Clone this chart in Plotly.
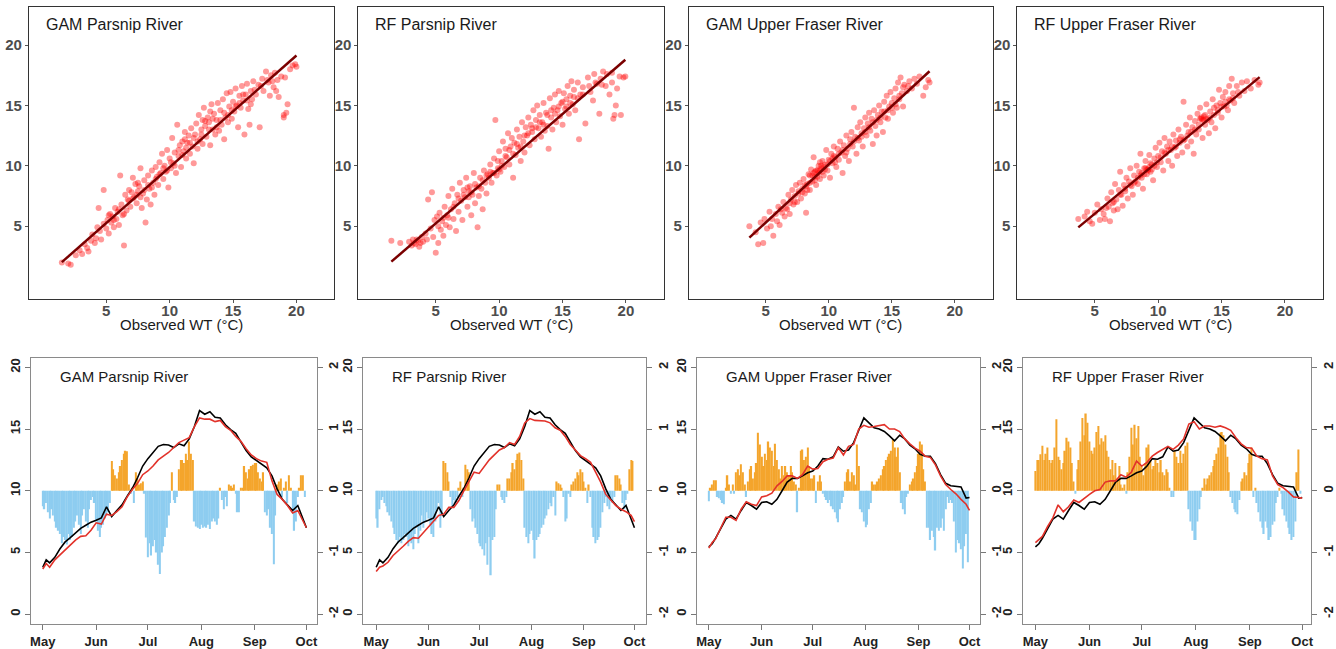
import numpy as np
import plotly.graph_objects as go

# ---------------- data ----------------
panel_titles = ["GAM Parsnip River", "RF Parsnip River", "GAM Upper Fraser River", "RF Upper Fraser River"]
axis_ticks = [5, 10, 15, 20]
x_title = "Observed WT (°C)"

# regression line (predicted ~ observed): slope, intercept
fit_slope = [0.925, 0.906, 0.963, 0.870]
fit_intercept = [0.63, 0.70, 0.49, 1.68]

gam_parsnip_pts = [
(1.5,2.0),(2.0,1.9),(2.2,1.8),(2.6,2.6),(2.9,3.0),(3.1,2.7),(3.3,3.5),(3.5,3.2),(3.6,2.9),(3.8,3.8),(3.9,4.3),(4.1,3.6),(4.2,4.0),(4.4,6.5),(4.5,4.6),(4.3,4.9),
(4.6,3.9),(4.8,8.0),(4.8,5.2),(5.0,4.8),(5.1,5.5),(5.2,4.4),(5.3,6.0),(5.4,5.3),(5.5,5.8),(5.6,4.9),(5.7,6.5),(5.8,5.6),(5.9,6.2),(6.0,5.1),(6.1,9.2),(6.2,6.8),(6.3,5.9),(6.4,3.4),(6.5,7.6),(6.6,6.3),
(6.7,7.2),(6.8,8.0),(6.9,6.6),(7.0,7.8),(7.1,9.0),(7.2,7.4),(7.3,8.5),(7.4,6.9),(7.5,7.9),(7.6,8.3),(7.7,9.8),(7.8,6.5),(7.9,7.7),(8.0,8.8),(8.1,5.3),(8.2,7.2),(8.3,9.2),(8.4,8.1),(8.5,6.8),(8.6,9.6),
(8.7,8.6),(8.8,7.6),(8.9,9.9),(9.0,9.1),(9.1,8.4),(9.2,10.3),(9.3,9.4),(9.4,11.0),(9.5,8.9),(9.6,10.0),(9.7,9.5),(9.8,11.3),(9.9,8.2),(10.0,10.6),(10.1,9.8),(10.2,12.3),(10.3,10.2),(10.4,11.1),(10.5,9.4),(10.6,13.4),
(10.7,10.8),(10.8,11.7),(10.9,9.9),(11.0,12.0),(11.1,11.2),(11.2,12.8),(11.3,10.6),(11.4,11.9),(11.5,12.5),(11.6,11.0),(11.7,13.1),(11.8,11.6),(11.9,10.2),(12.0,12.6),(12.1,13.5),(12.2,11.4),(12.3,14.2),(12.4,12.2),(12.5,13.0),(12.6,11.8),
(12.7,14.8),(12.8,13.3),(12.9,12.4),(13.0,14.0),(13.1,13.6),(13.2,11.7),(13.3,15.1),(13.4,13.0),(13.5,14.3),(13.6,12.6),(13.7,13.8),(13.8,15.2),(13.9,12.9),(14.0,14.6),(14.1,13.4),(14.2,15.5),(14.3,12.2),(14.4,14.0),(14.5,16.0),(14.6,13.6),
(14.7,14.9),(14.8,16.1),(14.9,13.9),(15.0,15.3),(15.1,14.5),(15.2,16.4),(15.3,15.0),(15.4,13.2),(15.5,15.8),(15.6,14.8),(15.7,16.6),(15.8,15.4),(15.9,12.6),(16.0,15.9),(16.1,16.8),(16.2,14.7),(16.3,13.4),(16.4,16.2),(16.5,15.5),(16.6,17.0),
(16.8,15.9),(17.0,16.7),(17.1,13.2),(17.3,17.2),(17.4,16.2),(17.6,17.8),(17.8,16.9),(17.9,15.8),(18.0,17.5),(18.2,16.5),(18.3,17.7),(18.5,17.1),(18.6,15.7),(18.8,17.4),(19.0,14.0),(19.1,17.3),(19.2,14.4),(19.3,15.1),(19.5,18.0),(19.7,18.3),(19.9,18.4),(19.0,14.2),(18.4,16.2),(20.0,18.2),
(5.2,5.9),(5.6,5.5),(6.0,6.4),(6.4,6.0),(6.8,7.1),(7.1,7.3),(7.4,7.6),(7.7,7.4),(8.0,8.0),(8.3,8.4),(8.6,8.2),(8.9,8.9),(9.2,9.3),(9.5,9.8),(9.8,9.6),(10.1,10.3),(10.4,10.0),(10.7,11.3),(11.0,10.9),(11.3,11.5),
(11.6,11.9),(11.9,12.3),(12.2,12.0),(12.5,12.6),(12.8,13.7),(13.1,13.0),(13.4,13.9),(13.7,13.2),(14.0,13.8),(14.3,14.4),(14.6,14.2),(14.9,14.6),(15.2,14.9),(15.5,15.2),(15.8,15.9),(16.1,15.4),(16.4,15.1),(16.7,16.3),(17.2,16.6),(17.7,17.1),
(18.1,17.0),(7.5,8.6),(12.6,13.8),(13.2,14.5),(11.2,12.2)]

rf_parsnip_pts = [
(1.5,3.8),(2.2,3.6),(2.9,3.7),(3.1,3.4),(3.2,3.9),(3.4,3.5),(3.6,3.8),(3.7,3.3),(3.9,4.1),(4.0,3.7),(4.2,4.4),(4.3,3.9),(4.4,7.2),(4.6,4.8),(4.7,7.8),(4.8,4.1),(4.9,5.5),(5.0,2.8),(5.1,5.8),(5.2,3.6),
(5.3,6.1),(5.4,4.7),(5.5,5.4),(5.6,4.2),(5.7,6.6),(5.8,5.1),(5.9,5.9),(6.0,7.5),(6.1,4.9),(6.2,6.4),(6.3,8.1),(6.4,5.6),(6.5,6.9),(6.6,4.6),(6.7,7.6),(6.8,6.2),(6.9,8.6),(7.0,7.1),(7.1,5.5),(7.2,8.0),
(7.3,7.4),(7.4,9.0),(7.5,6.6),(7.6,7.9),(7.7,8.3),(7.8,5.9),(7.9,7.6),(8.0,9.4),(8.1,6.9),(8.2,8.2),(8.3,4.9),(8.4,7.5),(8.5,9.0),(8.6,8.1),(8.7,6.4),(8.8,9.6),(8.9,8.6),(9.0,7.7),(9.1,9.3),(9.2,9.0),
(9.3,10.1),(9.4,8.6),(9.5,9.4),(9.6,10.6),(9.7,13.8),(9.8,9.2),(9.9,9.8),(10.0,11.2),(10.1,9.5),(10.2,10.4),(10.3,12.0),(10.4,9.9),(10.5,11.4),(10.6,10.7),(10.7,12.7),(10.8,10.1),(10.9,11.6),(11.0,12.3),(11.1,9.0),(11.2,11.9),
(11.3,10.9),(11.4,13.0),(11.5,11.5),(11.6,12.4),(11.7,10.4),(11.8,13.6),(11.9,12.0),(12.0,11.1),(12.1,13.2),(12.2,12.5),(12.3,14.0),(12.4,11.7),(12.5,13.4),(12.6,12.8),(12.7,14.6),(12.8,12.2),(12.9,13.8),(13.0,15.0),(13.1,13.1),(13.2,14.2),
(13.3,12.4),(13.4,13.6),(13.5,15.2),(13.6,12.9),(13.7,14.4),(13.8,13.3),(13.9,11.4),(14.0,15.6),(14.1,14.0),(14.2,13.0),(14.3,14.8),(14.4,15.9),(14.5,13.6),(14.6,14.6),(14.7,16.2),(14.8,14.1),(14.9,15.2),(15.0,13.4),(15.1,16.0),(15.2,14.7),
(15.3,15.5),(15.4,16.6),(15.5,14.3),(15.6,15.8),(15.7,17.0),(15.8,15.1),(15.9,16.3),(16.0,14.6),(16.2,16.9),(16.3,12.2),(16.4,15.9),(16.6,16.5),(16.8,13.5),(17.0,17.3),(17.2,16.1),(17.4,15.4),(17.5,17.6),(17.7,16.8),(17.9,14.3),(18.0,17.2),
(18.2,17.8),(18.4,16.6),(18.5,17.6),(18.7,15.9),(18.9,16.9),(19.0,13.9),(19.1,14.2),(19.2,15.0),(19.3,16.4),(19.5,17.4),(19.6,14.2),(19.8,17.3),(18.9,17.7),(19.95,17.4),
(3.3,3.6),(3.5,3.9),(3.8,3.6),(5.2,5.0),(5.6,5.7),(6.0,5.7),(6.4,6.6),(6.8,7.3),(7.2,7.6),(7.5,8.2),(7.8,7.8),(8.1,8.5),(8.4,8.3),(8.7,8.8),(9.0,9.2),(9.3,9.5),(9.6,9.4),(9.9,10.4),(10.2,10.0),(10.5,10.8),
(10.8,11.3),(11.1,11.0),(11.4,11.8),(11.7,11.6),(12.0,12.5),(12.3,12.7),(12.6,13.1),(12.9,13.2),(13.2,13.6),(13.5,13.4),(13.8,14.2),(14.1,14.6),(14.4,14.3),(14.7,14.9),(15.0,15.3),(15.3,14.9),(15.6,15.2),(15.9,15.7),(16.2,15.6),(16.6,15.9),
(17.1,16.6),(17.6,16.9),(18.1,16.7),(10.0,9.7),(7.6,7.4)]

gam_fraser_pts = [
(3.7,5.0),(4.2,4.5),(4.4,3.5),(4.6,5.3),(4.8,3.6),(4.9,5.6),(5.1,4.8),(5.3,6.2),(5.4,5.0),(5.5,5.6),(5.6,4.2),(5.8,6.0),(5.9,5.4),(6.0,6.6),(6.1,5.1),(6.3,6.1),(6.4,7.0),(6.5,5.8),(6.6,6.5),(6.7,6.4),
(6.8,7.6),(6.9,6.0),(7.0,7.2),(7.1,8.0),(7.2,6.8),(7.3,7.5),(7.4,8.4),(7.5,7.0),(7.6,7.9),(7.7,8.6),(7.8,7.3),(7.9,8.1),(8.0,8.9),(8.1,7.7),(8.2,6.1),(8.3,8.5),(8.4,9.3),(8.5,8.0),(8.6,9.7),(8.7,8.7),
(8.8,10.7),(8.9,9.1),(9.0,8.4),(9.1,9.6),(9.2,10.0),(9.3,8.9),(9.4,9.8),(9.5,10.4),(9.6,9.2),(9.7,10.1),(9.8,11.3),(9.9,9.6),(10.0,10.5),(10.1,9.0),(10.2,11.0),(10.3,10.2),(10.4,11.6),(10.5,10.7),(10.6,9.9),(10.7,11.4),
(10.8,10.5),(10.9,12.0),(11.0,11.1),(11.1,9.4),(11.2,11.7),(11.3,10.8),(11.4,12.5),(11.5,11.4),(11.6,10.4),(11.7,12.2),(11.8,12.8),(11.9,11.6),(12.0,14.8),(12.1,12.4),(12.2,11.0),(12.3,13.2),(12.4,12.1),(12.5,13.6),(12.6,12.7),(12.7,11.6),
(12.8,13.1),(12.9,14.0),(13.0,12.5),(13.1,13.5),(13.2,14.4),(13.3,12.9),(13.4,13.9),(13.5,11.8),(13.6,14.6),(13.7,13.3),(13.8,12.5),(13.9,14.2),(14.0,15.0),(14.1,13.6),(14.2,14.5),(14.3,12.8),(14.4,15.3),(14.5,14.0),(14.6,15.8),(14.7,13.9),
(14.8,14.9),(14.9,16.1),(15.0,15.2),(15.1,14.4),(15.2,15.6),(15.3,16.4),(15.4,14.8),(15.5,16.9),(15.6,15.5),(15.7,17.3),(15.8,16.0),(15.9,14.9),(16.0,16.7),(16.2,16.2),(16.4,17.0),(16.6,16.4),(16.8,17.2),(17.0,16.8),(17.2,17.4),(17.5,15.8),
(17.7,16.5),(17.9,17.1),(18.0,16.9),(9.0,9.6),(9.3,10.3),(8.5,9.2),(9.6,9.9),(8.9,9.5),(8.2,8.3),(10.4,10.8),
(6.2,6.4),(6.9,6.9),(7.3,7.0),(7.6,7.7),(7.9,7.8),(8.1,8.4),(8.3,8.0),(8.5,8.6),(8.7,9.2),(8.9,8.8),(9.1,9.1),(9.3,9.6),(9.5,9.5),(9.7,9.7),(9.9,10.1),(10.1,10.4),(10.3,10.6),(10.5,10.3),(10.8,11.0),(11.1,11.3),
(11.4,11.1),(11.7,11.8),(12.0,12.0),(12.3,12.3),(12.6,12.4),(12.9,12.8),(13.2,13.2),(13.5,13.6),(13.8,13.8),(14.1,14.0),(14.4,14.5),(14.7,14.6),(15.0,14.8),(15.3,15.1),(15.6,15.8),(15.9,16.5),(16.3,16.6),(9.2,9.4),(8.8,9.4),(9.4,10.0)]

rf_fraser_pts = [
(3.7,5.6),(4.2,5.8),(4.4,6.2),(4.6,5.4),(4.8,5.2),(5.0,6.1),(5.2,6.8),(5.4,5.5),(5.5,6.4),(5.7,6.0),(5.8,5.6),(6.0,7.3),(6.1,6.6),(6.2,5.4),(6.3,7.8),(6.4,6.9),(6.5,6.3),(6.6,8.5),(6.7,7.2),(6.8,6.4),
(6.9,8.0),(7.0,9.5),(7.1,7.6),(7.2,6.7),(7.3,8.4),(7.4,7.9),(7.5,9.0),(7.6,7.3),(7.7,8.7),(7.8,9.8),(7.9,8.3),(8.0,7.6),(8.1,9.2),(8.2,8.7),(8.3,10.0),(8.4,8.5),(8.5,9.5),(8.6,11.0),(8.7,9.0),(8.8,8.1),
(8.9,9.8),(9.0,10.4),(9.1,9.3),(9.2,9.7),(9.3,10.9),(9.4,9.5),(9.5,10.1),(9.6,8.8),(9.7,10.6),(9.8,11.5),(9.9,9.9),(10.0,10.8),(10.1,11.9),(10.2,10.3),(10.3,11.2),(10.4,9.6),(10.5,12.3),(10.6,11.0),(10.7,11.6),(10.8,10.4),
(10.9,12.0),(11.0,11.3),(11.1,10.0),(11.2,12.6),(11.3,11.5),(11.4,12.1),(11.5,10.8),(11.6,13.0),(11.7,11.9),(11.8,12.4),(11.9,11.1),(12.0,15.3),(12.1,12.2),(12.2,13.4),(12.3,11.6),(12.4,12.8),(12.5,14.0),(12.6,12.0),(12.7,13.2),(12.8,11.0),
(12.9,13.7),(13.0,12.6),(13.1,14.3),(13.2,13.0),(13.3,14.8),(13.4,13.9),(13.5,12.3),(13.6,14.1),(13.7,13.4),(13.8,15.1),(13.9,13.8),(14.0,12.7),(14.1,14.5),(14.2,13.6),(14.3,15.5),(14.4,14.2),(14.5,13.1),(14.6,15.0),(14.7,14.4),(14.8,16.3),
(14.9,15.2),(15.0,14.0),(15.1,15.7),(15.2,14.9),(15.3,16.1),(15.4,15.0),(15.5,14.6),(15.6,16.6),(15.7,15.4),(15.8,17.2),(15.9,16.0),(16.0,15.2),(16.2,16.6),(16.4,15.8),(16.6,16.9),(16.8,16.2),(17.0,17.0),(17.3,16.4),(17.6,17.1),(17.9,16.7),
(18.0,16.9),(9.2,9.6),(9.0,9.8),(13.4,14.0),(13.6,13.8),(8.6,9.2),
(5.9,6.5),(6.5,7.0),(7.0,7.6),(7.4,8.1),(7.8,8.4),(8.1,8.6),(8.4,9.0),(8.7,9.4),(8.9,9.3),(9.1,9.7),(9.3,9.9),(9.5,9.7),(9.7,10.0),(9.9,10.3),(10.2,10.7),(10.5,11.1),(10.8,11.3),(11.1,11.6),(11.4,11.6),(11.7,12.2),
(12.0,12.1),(12.3,12.5),(12.6,12.8),(12.9,13.0),(13.2,13.4),(13.5,13.8),(13.8,13.9),(14.1,14.0),(14.4,14.8),(14.7,14.6),(15.0,14.9),(15.3,15.3),(15.6,15.5),(15.9,15.6),(16.3,16.1),(9.4,10.2),(13.3,13.9),(13.7,14.2)]

# daily series: day 0 = 1 May
month_days = [0, 31, 61, 92, 123, 153]
month_labels = ["May", "Jun", "Jul", "Aug", "Sep", "Oct"]
line_days = [0,2,4,7,10,13,16,19,22,25,28,31,34,37,40,43,46,49,52,55,58,61,64,67,70,73,76,79,82,85,
             88,91,94,97,100,103,106,109,112,115,118,121,124,127,130,133,136,139,142,145,148,151,153]

parsnip_obs = [3.8,4.4,4.15,4.6,5.3,5.85,6.2,6.6,6.95,7.2,7.45,7.6,7.8,8.7,7.9,8.4,8.85,9.55,10.2,11.05,
               12.0,12.6,13.1,13.6,13.75,13.7,13.5,13.8,13.65,14.2,15.2,16.5,16.2,16.4,15.95,15.9,15.35,14.95,14.65,14.0,
               13.25,12.75,12.45,12.2,11.85,11.2,10.15,9.3,8.85,8.4,8.8,7.8,7.0]
gam_parsnip_pred = [3.66,4.1,3.8,4.4,4.8,5.2,5.6,6.0,6.3,6.35,6.8,7.4,7.3,8.1,8.0,8.3,8.7,9.5,10.1,10.6,
                    11.3,11.6,12.0,12.5,12.8,13.1,13.5,13.9,14.1,14.3,15.2,15.9,15.8,15.8,15.6,15.7,15.2,14.9,14.4,14.0,
                    13.4,12.9,12.6,12.4,12.3,10.8,9.7,9.3,8.8,8.2,8.4,7.6,7.0]
rf_parsnip_pred = [3.45,3.8,3.9,4.2,4.75,5.1,5.5,5.9,6.2,6.15,6.6,7.1,7.5,8.0,8.1,8.65,8.65,9.2,10.0,10.8,
                   11.5,11.4,12.0,12.5,12.9,13.3,13.5,13.9,13.75,14.4,15.5,15.85,15.7,15.65,15.65,15.5,15.1,14.9,14.4,13.75,
                   13.3,12.85,12.6,12.3,11.5,10.7,9.7,9.25,8.8,8.5,8.3,8.0,7.5]
fraser_obs = [5.45,5.7,6.15,6.95,7.7,8.0,7.7,8.4,9.05,8.8,8.5,9.05,9.1,8.9,9.3,10.0,10.7,11.0,11.0,11.2,
              11.45,11.6,12.0,12.6,12.55,12.75,13.55,13.2,13.3,13.9,14.9,15.9,15.5,15.1,15.0,14.8,14.45,14.05,14.5,14.2,
              13.7,13.4,12.95,12.8,12.8,12.2,11.3,10.6,10.4,10.35,10.3,9.4,9.45]
gam_fraser_pred = [5.35,5.8,6.1,6.95,7.85,7.85,7.6,8.5,9.1,8.9,8.8,9.5,9.6,9.8,10.4,10.75,11.2,11.2,11.0,11.3,
                   12.0,11.75,11.8,12.35,12.55,12.65,13.5,12.9,13.6,13.75,15.0,15.3,15.15,15.2,15.3,15.35,15.0,15.0,14.8,14.2,
                   13.8,13.45,13.2,12.8,12.7,12.1,11.2,10.5,10.1,9.75,9.3,8.9,8.4]
rf_fraser_pred = [5.8,6.05,6.3,7.1,7.8,8.85,8.3,8.7,9.25,9.05,9.4,9.7,10.0,10.1,10.7,10.8,10.8,11.3,11.1,11.5,
                  12.4,12.0,12.3,12.8,13.1,13.35,13.6,13.35,13.7,14.2,15.4,15.6,15.0,15.25,15.25,15.15,15.25,15.1,14.9,14.3,
                  13.8,13.5,13.45,12.8,12.6,12.5,11.2,10.5,10.25,9.9,9.5,9.45,9.4]

gam_parsnip_resid = [
-0.25,-0.30,-0.20,-0.35,-0.45,-0.30,-0.40,-0.50,-0.60,-0.65,
-0.70,-0.85,-0.75,-0.80,-0.87,-0.70,-0.80,-0.75,-0.60,-0.50,
-0.40,-0.55,-0.70,-0.40,-0.30,-0.50,-0.60,-0.30,-0.15,-0.10,
-0.20,-0.50,-0.65,-0.75,-0.60,-0.55,-0.45,-0.40,-0.35,-0.20,
0.48,0.35,0.25,0.20,0.30,0.40,0.50,0.60,0.65,0.64,
0.10,-0.05,0.05,-0.20,0.30,0.20,0.10,0.12,0.15,-0.05,
-0.76,-1.08,-0.85,-1.05,-0.90,-0.80,-1.00,-1.20,-1.35,-1.00,
-0.90,-0.75,-0.60,-0.40,-0.20,0.30,-0.15,-0.20,-0.10,0.35,
0.50,0.50,0.45,0.60,0.50,0.80,0.60,0.50,-0.50,-0.58,
-0.60,-0.62,-0.55,-0.60,-0.58,-0.60,-0.55,-0.62,-0.50,-0.45,
-0.50,-0.55,-0.45,0.05,-0.15,-0.30,-0.10,-0.25,0.10,0.08,
0.05,0.10,-0.05,-0.35,-0.35,0.05,0.05,0.40,0.30,0.20,
0.35,0.40,0.42,0.45,0.45,0.30,0.20,0.15,0.30,-0.35,
-0.40,-0.30,-0.60,-0.70,-1.19,-0.40,0.10,0.15,0.20,-0.10,
0.05,0.15,-0.20,0.25,0.05,-0.35,-0.65,-0.50,-0.10,0.05,
0.25,0.25,-0.10]

rf_parsnip_resid = [
-0.45,-0.60,-0.30,-0.15,-0.10,-0.20,-0.25,-0.35,-0.40,-0.50,
-0.60,-0.70,-0.80,-0.85,-0.75,-0.85,-0.80,-0.70,-0.75,-0.90,
-0.80,-0.85,-0.95,-0.70,-0.60,-0.85,-0.65,-0.40,-0.60,-0.50,
-0.35,-0.45,-0.55,-0.70,-0.75,-0.50,-0.30,-0.20,-0.60,-0.40,
0.48,0.45,0.30,0.15,-0.10,-0.25,-0.15,-0.20,-0.10,0.05,
0.15,-0.10,0.05,0.42,0.35,0.30,-0.30,-0.50,-0.45,-0.60,
-0.70,-0.85,-0.90,-0.95,-1.05,-0.85,-1.20,-0.75,-1.37,-0.80,
-0.75,-0.30,0.10,0.10,-0.10,-0.15,-0.20,-0.10,0.20,0.20,
0.30,0.45,0.35,0.50,0.60,0.62,0.50,0.20,-0.60,-0.75,
-0.85,-0.70,-0.65,-0.80,-1.10,-0.80,-0.75,-0.70,-0.60,-0.55,
-0.45,-0.40,-0.30,-0.20,-0.25,-0.10,-0.40,0.15,0.12,0.10,
0.05,-0.10,-0.50,-0.45,-0.05,-0.10,0.10,0.15,0.20,0.30,
0.25,0.35,0.30,0.15,0.05,-0.20,0.10,-0.10,-0.60,-0.75,
-0.85,-0.80,-0.75,-0.60,-0.35,-0.20,-0.10,-0.25,-0.30,-0.15,
-0.20,-0.10,0.25,0.25,0.20,0.10,-0.20,-0.30,-0.15,-0.05,
0.35,0.50,0.48]

gam_fraser_resid = [
-0.17,0.05,0.10,0.17,0.17,-0.10,-0.12,-0.15,-0.20,-0.22,
0.05,0.25,0.10,-0.05,0.10,-0.05,0.30,0.35,0.25,0.43,
0.30,0.10,-0.10,0.15,0.35,0.40,0.20,0.30,0.45,0.94,
0.75,0.55,0.40,0.60,0.50,0.80,0.70,0.65,0.40,0.76,
0.50,0.35,0.20,0.40,0.25,0.40,0.30,0.25,0.40,0.30,
0.15,0.10,-0.35,0.05,0.65,0.67,0.50,0.55,0.70,0.40,
0.20,0.20,0.25,-0.20,0.15,0.25,0.15,-0.05,-0.10,-0.15,
-0.20,-0.15,-0.25,-0.30,-0.35,-0.45,-0.51,-0.30,-0.20,-0.10,
0.15,0.30,0.35,0.15,0.30,0.25,0.10,0.75,0.40,-0.30,
-0.35,-0.50,-0.59,-0.55,-0.30,-0.20,0.15,0.10,0.10,0.15,
0.20,0.25,0.35,0.40,0.50,0.55,0.60,0.65,0.83,0.70,
0.55,0.70,0.30,-0.20,-0.30,-0.38,-0.10,-0.05,0.10,0.15,
0.20,0.30,0.40,0.60,0.80,0.75,0.35,0.15,-0.60,-0.60,
-0.80,-0.65,-0.75,-0.97,-0.60,-0.65,-0.60,-0.45,-0.65,-0.30,
-0.10,-0.20,-0.15,-0.20,-0.50,-1.00,-0.80,-0.85,-0.95,-1.26,
-0.90,-0.70,-1.16]

rf_fraser_resid = [
0.32,0.50,0.50,0.59,0.73,0.50,0.60,0.70,0.50,0.45,
0.50,0.70,1.16,0.55,0.50,0.35,0.45,0.65,0.86,0.80,
0.70,0.45,0.15,-0.05,0.35,0.50,0.80,1.18,0.90,1.25,
1.10,0.80,0.65,0.60,0.70,0.95,1.05,0.75,0.85,0.80,
0.90,0.65,0.55,0.35,0.50,0.25,0.45,0.20,0.40,0.10,
0.05,0.10,-0.05,0.30,0.55,1.02,0.75,1.07,0.85,1.05,
0.55,0.40,0.25,0.45,0.70,0.75,0.50,0.35,0.40,0.50,
0.45,0.30,0.50,0.30,0.25,0.35,0.30,0.05,-0.10,-0.10,
0.65,0.55,0.45,0.65,0.45,0.60,0.73,0.78,-0.30,-0.50,
-0.65,-0.80,-0.80,-0.50,-0.30,-0.10,0.05,0.20,0.10,0.20,
0.25,0.30,0.40,0.50,0.60,0.70,0.94,0.95,0.90,0.75,
0.55,0.30,-0.10,-0.20,-0.30,-0.35,-0.38,-0.15,0.15,0.20,
0.30,0.25,0.45,0.60,0.70,-0.10,0.05,-0.20,-0.35,-0.50,
-0.60,-0.70,-0.50,-0.60,-0.80,-0.75,-0.55,-0.50,-0.20,-0.10,
0.05,-0.05,-0.30,-0.40,-0.50,-0.60,-0.70,-0.80,-0.75,-0.50,
0.30,0.67,-0.05]

scatter_sets = [gam_parsnip_pts, rf_parsnip_pts, gam_fraser_pts, rf_fraser_pts]
obs_sets = [parsnip_obs, parsnip_obs, fraser_obs, fraser_obs]
pred_sets = [gam_parsnip_pred, rf_parsnip_pred, gam_fraser_pred, rf_fraser_pred]
resid_sets = [gam_parsnip_resid, rf_parsnip_resid, gam_fraser_resid, rf_fraser_resid]

# ---------------- layout helpers ----------------
W, H = 1336, 649
FONT = "Liberation Sans, Arial, Helvetica, sans-serif"
def fx(p): return p / W
def fy(p): return 1 - p / H

top_boxes = [(28, 335), (359, 666), (691, 996), (1021, 1328)]
top_rows = (7, 300)
bot_boxes = [(30, 317), (364, 648), (699, 983), (1027, 1316)]
bot_rows = (360, 627)
bot_xranges = [(-6.9, 158.9), (-7.6, 159.9), (-7.0, 158.9), (-6.9, 158.1)]
left_range = (-0.81, 20.73)
right_range = ((left_range[0] - 10) / 5, (left_range[1] - 10) / 5)

fig = go.Figure()
layout = dict(width=W, height=H, margin=dict(l=0, r=0, t=0, b=0),
              paper_bgcolor="white", plot_bgcolor="white", showlegend=False,
              font=dict(family=FONT), bargap=0.15)
annotations = []

for i in range(4):
    # ----- top scatter -----
    xa, ya = f"x{i+1}", f"y{i+1}"
    pts = np.array(scatter_sets[i])
    fig.add_trace(go.Scatter(x=pts[:, 0], y=pts[:, 1], mode="markers", xaxis=xa, yaxis=ya,
                             marker=dict(size=6, color="rgba(255,0,0,0.4)", line=dict(width=0)),
                             hoverinfo="skip"))
    xs = np.array([pts[:, 0].min(), pts[:, 0].max()])
    fig.add_trace(go.Scatter(x=xs, y=fit_slope[i] * xs + fit_intercept[i], mode="lines", xaxis=xa, yaxis=ya,
                             line=dict(color="#7a0000", width=2.5), hoverinfo="skip"))
    l, r = top_boxes[i]
    tickfont = dict(family=FONT, size=15, color="#4d4d4d", weight="bold")
    layout[f"xaxis{i+1}"] = dict(domain=[fx(l), fx(r)], anchor=ya, range=[-1.1, 23.0],
                                 tickvals=axis_ticks, ticks="outside", ticklen=3, tickcolor="#555",
                                 ticklabelstandoff=-5,
                                 showline=True, linecolor="#333", linewidth=1, mirror=True,
                                 showgrid=False, zeroline=False, tickfont=tickfont)
    layout[f"yaxis{i+1}"] = dict(domain=[fy(top_rows[1]), fy(top_rows[0])], anchor=xa, range=[-1.0, 23.15],
                                 tickvals=axis_ticks, ticks="outside", ticklen=3, tickcolor="#555",
                                 showline=True, linecolor="#333", linewidth=1, mirror=True,
                                 showgrid=False, zeroline=False, tickfont=tickfont)
    annotations.append(dict(text=panel_titles[i], xref="paper", yref="paper", x=fx(l + 15), y=fy(25),
                            xanchor="left", yanchor="middle", showarrow=False,
                            font=dict(size=16, color="#1a1a1a")))
    annotations.append(dict(text=x_title, xref="paper", yref="paper", x=fx((l + r) / 2), y=fy(326),
                            xanchor="center", yanchor="middle", showarrow=False,
                            font=dict(size=15, color="#1a1a1a")))

    # ----- bottom time series -----
    bx, by_bar, by_line = f"x{i+5}", f"y{i+5}", f"y{i+9}"
    resid = resid_sets[i]
    days = list(range(len(resid)))
    colors = ["#F4A52C" if v >= 0 else "#8ECDF0" for v in resid]
    fig.add_trace(go.Bar(x=days, y=resid, xaxis=bx, yaxis=by_bar, width=0.8,
                         marker=dict(color=colors, line=dict(width=0)), hoverinfo="skip"))
    fig.add_trace(go.Scatter(x=line_days, y=obs_sets[i], mode="lines", xaxis=bx, yaxis=by_line,
                             line=dict(color="black", width=1.6), hoverinfo="skip"))
    fig.add_trace(go.Scatter(x=line_days, y=pred_sets[i], mode="lines", xaxis=bx, yaxis=by_line,
                             line=dict(color="#E2322A", width=1.6), hoverinfo="skip"))
    l, r = bot_boxes[i]
    bfont = dict(family=FONT, size=13, color="#222", weight="bold")
    layout[f"xaxis{i+5}"] = dict(domain=[fx(l), fx(r)], anchor=by_bar, range=list(bot_xranges[i]),
                                 tickvals=month_days, ticktext=month_labels, ticks="outside", ticklen=5,
                                 tickcolor="#777", showline=True, linecolor="#8a8a8a", linewidth=1.3,
                                 mirror=True, showgrid=False, zeroline=False, tickfont=bfont)
    layout[f"yaxis{i+5}"] = dict(domain=[fy(bot_rows[1]), fy(bot_rows[0])], anchor=bx, side="right",
                                 range=list(right_range), tickvals=[-2, -1, 0, 1, 2],
                                 ticktext=["-2", "-1", "0", "1", "2"], tickangle=-90,
                                 ticks="outside", ticklen=5, tickcolor="#777",
                                 showline=True, linecolor="#8a8a8a", linewidth=1.3, mirror=True,
                                 showgrid=False, zeroline=False, tickfont=bfont)
    layout[f"yaxis{i+9}"] = dict(overlaying=by_bar, anchor=bx, side="left", range=list(left_range),
                                 tickvals=[0, 5, 10, 15, 20], tickangle=-90, ticks="outside", ticklen=5,
                                 tickcolor="#777", showline=False, showgrid=False, zeroline=False,
                                 tickfont=bfont)
    annotations.append(dict(text=panel_titles[i], xref="paper", yref="paper", x=fx(l + 27), y=fy(378),
                            xanchor="left", yanchor="middle", showarrow=False,
                            font=dict(size=15, color="#1a1a1a")))

layout["annotations"] = annotations
fig.update_layout(**layout)
fig.write_html("out.html")
